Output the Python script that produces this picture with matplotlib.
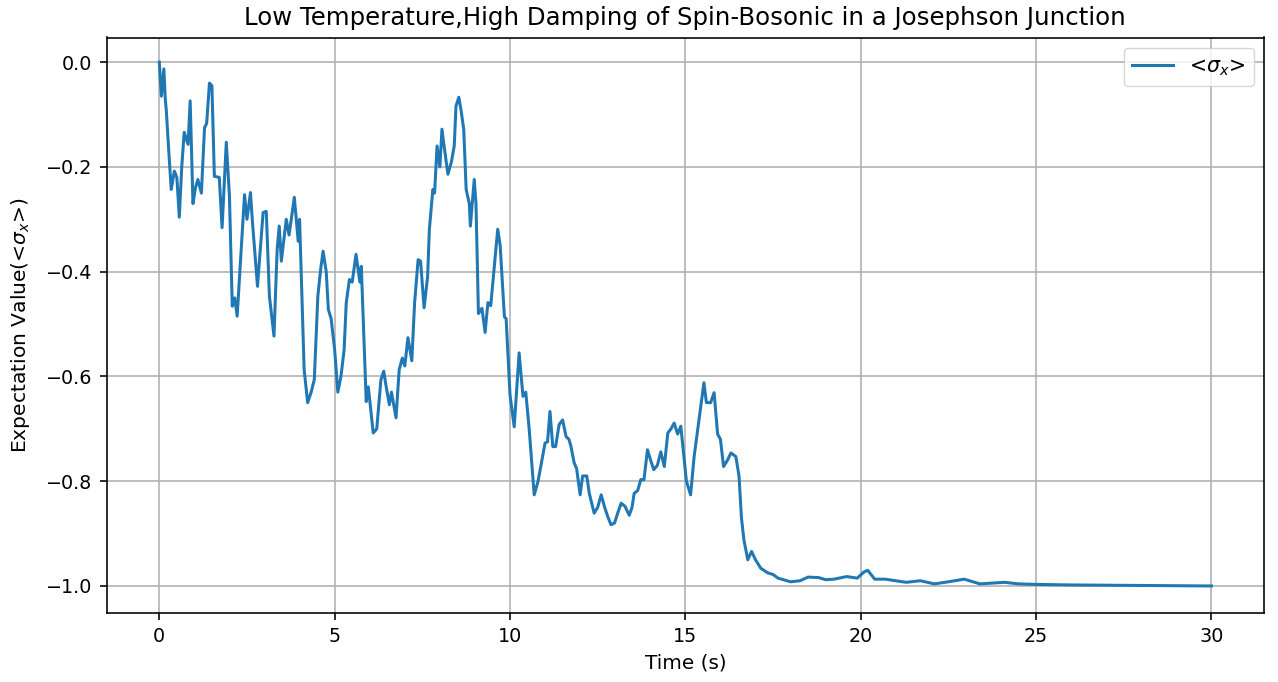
import matplotlib
matplotlib.use("Agg")
import matplotlib.pyplot as plt

# Time samples (s)
time_s = [
    0.00, 0.06, 0.13, 0.17, 0.20, 0.27, 0.34, 0.43, 0.50, 0.57, 0.64, 0.71, 0.82, 0.88, 0.96,
    1.03, 1.10, 1.20, 1.29, 1.35, 1.43, 1.50, 1.57, 1.71, 1.79, 1.91, 2.00, 2.08, 2.15, 2.22,
    2.34, 2.43, 2.50, 2.60, 2.65, 2.80, 2.96, 3.05, 3.14, 3.27, 3.36, 3.42, 3.48, 3.62, 3.70,
    3.85, 3.96, 4.00, 4.13, 4.23, 4.33, 4.42, 4.52, 4.60, 4.67, 4.76, 4.82, 4.90, 5.00, 5.09,
    5.18, 5.27, 5.33, 5.42, 5.50, 5.61, 5.72, 5.76, 5.90, 5.96, 6.10, 6.20, 6.32, 6.40, 6.47,
    6.56, 6.62, 6.75, 6.84, 6.93, 7.00, 7.09, 7.20, 7.28, 7.38, 7.45, 7.55, 7.65, 7.70, 7.80,
    7.85, 7.92, 8.00, 8.06, 8.12, 8.23, 8.33, 8.41, 8.46, 8.54, 8.60, 8.68, 8.75, 8.84, 8.87,
    8.98, 9.03, 9.10, 9.20, 9.29, 9.37, 9.45, 9.65, 9.72, 9.84, 9.89, 10.00, 10.12, 10.26,
    10.37, 10.45, 10.55, 10.69, 10.80, 10.93, 11.00, 11.07, 11.14, 11.22, 11.30, 11.40, 11.50,
    11.60, 11.68, 11.74, 11.83, 11.90, 12.00, 12.07, 12.19, 12.26, 12.40, 12.50, 12.60, 12.70,
    12.79, 12.88, 12.98, 13.07, 13.17, 13.28, 13.40, 13.48, 13.54, 13.64, 13.73, 13.82, 13.92,
    14.01, 14.10, 14.20, 14.30, 14.40, 14.50, 14.59, 14.68, 14.78, 14.87, 14.97, 15.03, 15.15,
    15.25, 15.35, 15.44, 15.53, 15.60, 15.72, 15.82, 15.92, 16.00, 16.09, 16.20, 16.30, 16.44,
    16.53, 16.60, 16.67, 16.78, 16.89, 17.00, 17.15, 17.35, 17.50, 17.64, 18.00, 18.27, 18.50,
    18.80, 19.00, 19.24, 19.60, 19.90, 20.10, 20.20, 20.40, 20.70, 21.30, 21.70, 22.10, 22.50,
    22.95, 23.40, 24.10, 24.50, 25.00, 26.00, 28.00, 30.00,
]

# Expectation value <sigma_x>
sigma_x = [
    0.000, -0.065, -0.013, -0.070, -0.093, -0.170, -0.243, -0.208, -0.220, -0.296, -0.200, -0.134, -0.157, -0.074, -0.270,
    -0.240, -0.224, -0.250, -0.125, -0.117, -0.040, -0.045, -0.218, -0.220, -0.316, -0.153, -0.256, -0.466, -0.450, -0.485,
    -0.354, -0.253, -0.300, -0.249, -0.300, -0.428, -0.287, -0.285, -0.447, -0.523, -0.358, -0.313, -0.380, -0.300, -0.330,
    -0.258, -0.342, -0.300, -0.587, -0.650, -0.630, -0.606, -0.447, -0.396, -0.361, -0.400, -0.472, -0.490, -0.549, -0.630,
    -0.600, -0.549, -0.460, -0.415, -0.420, -0.367, -0.420, -0.390, -0.648, -0.620, -0.708, -0.700, -0.606, -0.590, -0.620,
    -0.654, -0.630, -0.679, -0.587, -0.565, -0.580, -0.526, -0.570, -0.459, -0.377, -0.380, -0.469, -0.410, -0.320, -0.243,
    -0.250, -0.160, -0.200, -0.128, -0.160, -0.214, -0.190, -0.160, -0.084, -0.067, -0.090, -0.128, -0.243, -0.270, -0.313,
    -0.224, -0.270, -0.480, -0.470, -0.516, -0.459, -0.465, -0.319, -0.350, -0.486, -0.490, -0.635, -0.696, -0.555,
    -0.638, -0.630, -0.703, -0.826, -0.800, -0.753, -0.727, -0.725, -0.667, -0.734, -0.734, -0.692, -0.683,
    -0.715, -0.720, -0.734, -0.765, -0.776, -0.826, -0.790, -0.790, -0.823, -0.861, -0.850, -0.826, -0.850,
    -0.868, -0.883, -0.880, -0.861, -0.842, -0.848, -0.865, -0.850, -0.823, -0.818, -0.797, -0.797, -0.740,
    -0.760, -0.778, -0.770, -0.744, -0.772, -0.708, -0.700, -0.689, -0.710, -0.695, -0.760, -0.800, -0.826,
    -0.753, -0.702, -0.657, -0.612, -0.650, -0.650, -0.631, -0.710, -0.720, -0.772, -0.760, -0.746, -0.753,
    -0.790, -0.870, -0.912, -0.950, -0.934, -0.950, -0.966, -0.975, -0.978, -0.985, -0.992, -0.990, -0.983,
    -0.984, -0.988, -0.987, -0.982, -0.985, -0.973, -0.970, -0.987, -0.987, -0.993, -0.990, -0.996, -0.992,
    -0.987, -0.996, -0.993, -0.996, -0.997, -0.998, -0.999, -1.000,
]

title = "Low Temperature,High Damping of Spin-Bosonic in a Josephson Junction"
x_label = "Time (s)"
y_label = r"Expectation Value(<$\sigma_x$>)"
series_label = r"<$\sigma_x$>"

s = 1.45  # visual scale of the reference relative to matplotlib defaults at 100 dpi

fig = plt.figure(figsize=(12.78, 6.82), dpi=100)
ax = fig.add_axes([106.7 / 1278, 1 - 612.7 / 682, (1264 - 106.7) / 1278, (612.7 - 37.5) / 682])
ax.plot(time_s, sigma_x, color="#1f77b4", linewidth=1.5 * s, label=series_label)
ax.set_ylim(-1.051, 0.047)
ax.set_title(title, fontsize=17.6, pad=6 * s)
ax.set_xlabel(x_label, fontsize=14.4, labelpad=4 * s)
ax.set_ylabel(y_label, fontsize=14.6, labelpad=4 * s + 4)
ax.tick_params(labelsize=13.8, length=3.5 * s, width=0.8 * s, pad=3.5 * s)
for sp in ax.spines.values():
    sp.set_linewidth(0.8 * s)
ax.grid(True, linewidth=0.8 * s)
ax.legend(loc="upper right", fontsize=14.8)
fig.savefig("out.png", dpi=100)
